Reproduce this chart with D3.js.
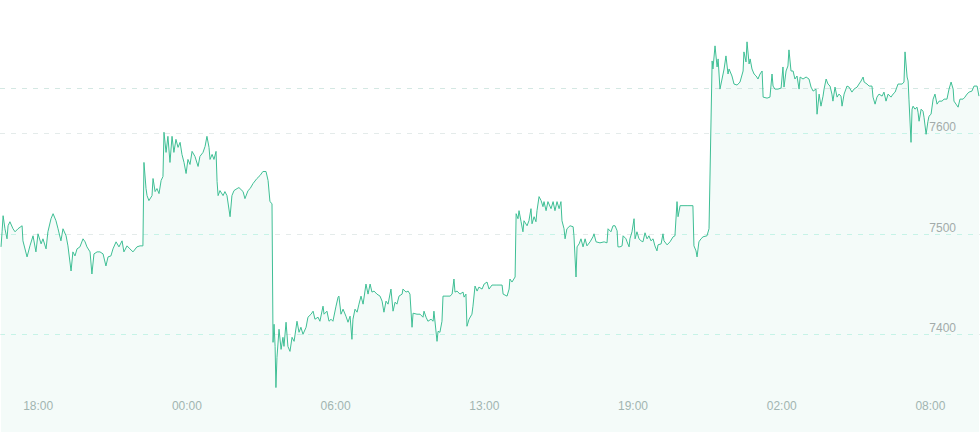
<!DOCTYPE html>
<html><head><meta charset="utf-8">
<script src="https://cdn.jsdelivr.net/npm/d3@7"></script>
<style>html,body{margin:0;padding:0;background:#fff;}svg{display:block;}</style>
</head><body>
<svg id="chart" width="980" height="432"></svg>
<script>
// bar index (category position) of each sample
const times = [
0,0.5,1.0,1.9,2.9,3.4,4.3,5.8,6.8,8.2,
10.2,10.6,12.6,14.0,15.5,16.9,17.9,19.4,20.3,21.8,
22.7,24.2,25.2,26.6,27.6,29.0,30.0,31.5,32.4,33.9,
34.8,35.8,36.8,38.2,39.7,40.7,41.6,43.1,44.0,45.0,
46.5,47.9,49.4,50.8,51.8,53.2,54.2,55.7,57.1,58.6,
59.5,61.0,62.4,63.9,65.8,67.3,68.7,69.2,70.2,70.7,
71.6,73.1,73.6,74.6,75.5,76.5,77.5,78.4,78.9,79.9,
80.8,81.8,82.8,83.7,84.7,85.7,86.7,87.6,88.6,89.6,
90.5,91.5,92.5,93.9,95.4,96.3,97.8,98.8,99.7,100.7,
101.2,102.2,103.1,104.1,104.6,105.1,106.0,107.5,108.4,109.4,
110.9,111.8,112.8,114.3,115.2,117.2,118.1,119.6,120.6,122.0,
123.9,125.4,126.8,128.3,129.3,130.2,131.2,131.7,132.2,132.7,
133.1,133.6,134.6,135.6,136.5,137.0,138.0,138.9,139.9,140.9,
141.9,143.3,144.3,145.2,146.2,147.7,148.6,150.1,151.1,152.0,
153.5,154.4,155.9,156.4,157.8,158.8,159.8,160.7,162.2,163.2,
163.6,164.6,165.6,167.0,168.0,169.0,169.9,170.4,171.4,172.4,
173.3,174.3,175.3,176.7,177.7,178.7,179.6,180.6,182.0,183.5,
184.5,185.4,186.4,187.4,188.8,189.8,190.8,191.7,192.7,194.2,
194.6,196.1,197.1,198.0,199.0,199.5,201.4,202.9,204.3,204.8,
205.8,206.7,208.2,209.2,209.6,211.1,211.6,212.5,213.5,214.0,
215.9,217.4,218.4,219.3,219.8,220.8,222.2,223.7,224.2,225.1,
225.6,226.6,228.0,228.5,229.5,230.5,231.4,232.9,233.9,235.3,
236.3,237.7,240.1,242.6,243.1,245.0,246.0,246.4,247.4,248.9,
249.4,250.3,250.8,251.8,252.7,253.2,254.7,255.6,256.6,257.1,
258.1,259.0,259.5,260.5,261.5,262.4,262.9,263.9,264.8,266.3,
267.3,268.2,269.2,270.2,271.1,271.6,272.6,273.1,274.0,275.5,
277.0,277.4,278.4,278.9,279.9,280.8,281.8,282.8,283.7,285.2,
286.6,287.1,288.1,290.0,292.0,293.4,293.9,295.3,296.3,297.3,
298.3,298.7,299.7,300.7,301.2,302.6,303.1,304.1,304.5,305.5,
306.5,307.0,307.9,308.9,309.9,310.8,311.8,312.8,313.7,314.7,
315.7,316.6,317.6,318.1,319.6,320.5,321.0,322.5,323.9,325.4,
326.3,327.3,327.8,328.8,330.2,332.6,335.0,335.5,336.5,337.0,
337.9,338.9,339.9,341.8,342.8,344.3,344.7,345.7,346.7,347.2,
348.1,349.1,350.1,351.0,352.0,352.5,353.9,354.9,356.4,357.8,
359.3,359.7,360.7,361.2,362.2,362.7,363.6,364.6,365.6,366.5,
367.5,368.5,369.0,370.9,372.3,373.3,373.8,374.7,376.2,377.7,
378.6,379.1,380.1,381.0,381.5,382.5,383.5,384.4,385.4,386.4,
386.9,388.3,389.8,391.2,392.2,393.2,394.6,395.1,396.1,397.0,
398.0,398.5,399.5,400.4,401.4,402.3,402.8,403.8,404.8,405.7,
406.7,407.2,408.2,409.6,410.6,412.0,413.0,414.5,415.4,416.4,
417.4,417.9,419.3,420.3,421.7,422.2,423.2,424.1,425.1,426.6,
427.5,428.5,429.5,430.9,431.9,432.9,434.3,436.3,437.2,437.7,
438.7,439.2,439.6,440.6,441.1,441.6,442.5,443.5,444.0,444.5,
445.5,446.4,446.9,447.9,448.8,449.3,450.3,451.3,452.2,453.2,
454.2,455.6,456.6,458.0,459.0,460.0,461.0,461.4,462.4,463.4,
464.3,465.8,466.7,467.7,468.7,470.1,471.1,472.6,473.5
];
const prices = [
7487,7502,7518,7505,7495,7508,7512,7505,7502,7505,
7508,7493,7477,7488,7498,7482,7500,7490,7495,7485,
7502,7515,7520,7513,7505,7493,7505,7498,7488,7463,
7482,7478,7485,7487,7495,7492,7487,7482,7460,7480,
7482,7482,7480,7468,7477,7478,7485,7492,7487,7493,
7482,7488,7485,7482,7487,7488,7488,7571,7545,7538,
7533,7538,7555,7542,7545,7540,7553,7557,7601,7581,
7597,7571,7597,7581,7594,7586,7591,7579,7571,7560,
7574,7569,7582,7577,7567,7577,7581,7587,7597,7586,
7574,7579,7574,7582,7552,7538,7543,7538,7542,7538,
7517,7538,7543,7545,7546,7542,7535,7543,7545,7550,
7555,7558,7562,7562,7553,7532,7530,7392,7410,7388,
7347,7377,7405,7385,7397,7388,7412,7388,7383,7397,
7393,7413,7402,7407,7400,7407,7417,7420,7423,7415,
7417,7413,7428,7420,7423,7413,7415,7413,7428,7437,
7438,7420,7425,7418,7412,7418,7395,7415,7425,7422,
7430,7438,7430,7450,7440,7450,7442,7443,7440,7438,
7433,7422,7433,7430,7445,7423,7432,7430,7438,7440,
7445,7442,7443,7440,7407,7421,7420,7420,7417,7423,
7417,7413,7415,7413,7423,7393,7403,7402,7413,7438,
7438,7438,7440,7455,7442,7443,7440,7442,7437,7440,
7408,7415,7420,7428,7448,7443,7447,7445,7450,7452,
7445,7449,7449,7449,7440,7438,7445,7455,7452,7457,
7520,7515,7523,7512,7502,7513,7508,7513,7525,7510,
7517,7512,7523,7537,7533,7527,7532,7523,7532,7525,
7532,7523,7532,7525,7532,7513,7505,7495,7505,7508,
7507,7498,7457,7487,7490,7495,7487,7495,7488,7492,
7497,7500,7492,7491,7492,7491,7505,7502,7508,7508,
7503,7487,7487,7488,7498,7495,7492,7487,7495,7502,
7515,7495,7502,7495,7493,7492,7501,7495,7498,7493,
7495,7488,7483,7489,7490,7500,7493,7489,7492,7497,
7498,7532,7517,7528,7528,7528,7528,7488,7483,7477,
7492,7495,7497,7498,7505,7672,7664,7687,7666,7674,
7644,7654,7664,7677,7659,7664,7657,7649,7648,7651,
7662,7681,7671,7691,7669,7674,7664,7659,7657,7654,
7659,7662,7636,7635,7636,7659,7647,7644,7644,7645,
7666,7646,7662,7667,7683,7662,7662,7654,7657,7644,
7656,7654,7656,7654,7646,7642,7644,7619,7639,7627,
7637,7644,7654,7649,7647,7639,7632,7646,7636,7639,
7637,7627,7639,7647,7646,7641,7644,7646,7649,7652,
7656,7651,7649,7647,7647,7636,7629,7636,7639,7637,
7641,7632,7639,7636,7639,7641,7649,7649,7651,7681,
7656,7652,7634,7591,7624,7627,7624,7626,7621,7612,
7624,7622,7616,7599,7612,7617,7619,7634,7639,7629,
7632,7632,7634,7634,7644,7651,7644,7632,7629,7626,
7634,7634,7636,7639,7641,7642,7647,7647,7637
];
const tickIndex = [18, 90, 162, 234, 306, 378, 450];
const tickLabels = ["18:00", "00:00", "06:00", "13:00", "19:00", "02:00", "08:00"];
const yTicks = [7400, 7500, 7600];
const refPrice = 7645;

const W = 980, H = 432;
const data = times.map((t, i) => ({t, p: prices[i]}));
const x = d3.scaleLinear().domain([-0.5, 474]).range([0, W]);
const y = d3.scaleLinear().domain([7400, 7600]).range([334.3, 133.3]);

const svg = d3.select("#chart");
const defs = svg.append("defs");

const area = d3.area().x(d => x(d.t)).y0(H).y1(d => y(d.p));
const line = d3.line().x(d => x(d.t)).y(d => y(d.p));

defs.append("clipPath").attr("id", "areaClip")
  .append("path").attr("d", area(data));

// area fill
svg.append("path").attr("d", area(data)).attr("fill", "#f4fbf9");

// grid lines (outside of fill)
const gridAll = svg.append("g");
gridAll.selectAll("line").data(yTicks).join("line")
  .attr("x1", 0).attr("x2", W)
  .attr("y1", d => Math.round(y(d)) + 0.5).attr("y2", d => Math.round(y(d)) + 0.5)
  .attr("stroke", "#e4ebea").attr("stroke-dasharray", "5,6");
// grid lines inside fill
const gridIn = svg.append("g").attr("clip-path", "url(#areaClip)");
gridIn.selectAll("line").data(yTicks).join("line")
  .attr("x1", 0).attr("x2", W)
  .attr("y1", d => Math.round(y(d)) + 0.5).attr("y2", d => Math.round(y(d)) + 0.5)
  .attr("stroke", "#c6f3e7").attr("stroke-dasharray", "5,6");

// reference price line
svg.append("line")
  .attr("x1", 0).attr("x2", W)
  .attr("y1", Math.round(y(refPrice)) + 0.5).attr("y2", Math.round(y(refPrice)) + 0.5)
  .attr("stroke", "#d4e8e3").attr("stroke-dasharray", "5,6");

// price line
svg.append("path").attr("d", line(data))
  .attr("fill", "none").attr("stroke", "#3fbf95").attr("stroke-width", 1)
  .attr("stroke-linejoin", "round");

// y labels
svg.append("g").selectAll("text").data(yTicks).join("text")
  .attr("x", 956).attr("y", d => y(d) - 2)
  .attr("text-anchor", "end")
  .attr("font-family", "Liberation Sans, Arial, sans-serif")
  .attr("font-size", 12).attr("fill", "#a2abaa")
  .text(d => d);

// x labels
svg.append("g").selectAll("text").data(tickIndex).join("text")
  .attr("x", d => x(d)).attr("y", 409.5)
  .attr("text-anchor", "middle")
  .attr("font-family", "Liberation Sans, Arial, sans-serif")
  .attr("font-size", 12).attr("fill", "#a2b5b1")
  .text((d, i) => tickLabels[i]);
</script>
</body></html>
